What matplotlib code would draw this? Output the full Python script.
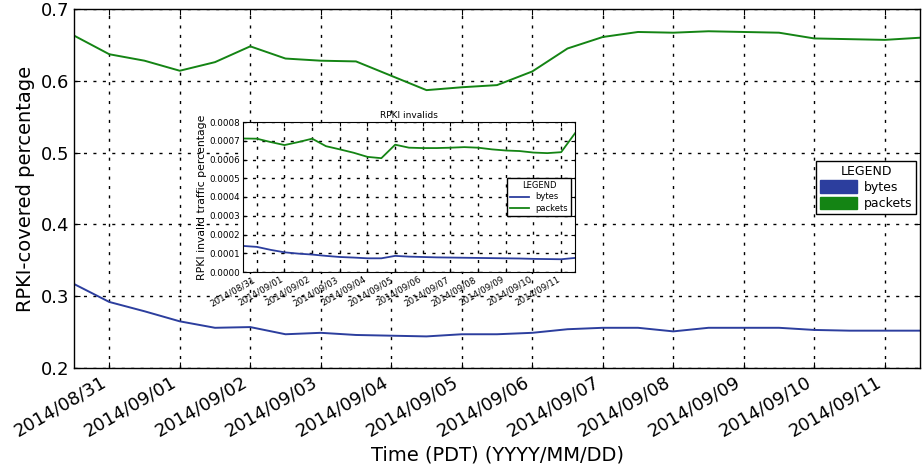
import matplotlib
matplotlib.use("Agg")
import matplotlib.pyplot as plt
import matplotlib.dates as mdates
from matplotlib.patches import Patch
import pandas as pd

plt.rcParams['font.family'] = ['DejaVu Sans']

times = pd.to_datetime([
    "2014-08-30 12:00", "2014-08-31 00:00", "2014-08-31 12:00", "2014-09-01 00:00",
    "2014-09-01 12:00", "2014-09-02 00:00", "2014-09-02 12:00", "2014-09-03 00:00",
    "2014-09-03 12:00", "2014-09-04 00:00", "2014-09-04 12:00", "2014-09-05 00:00",
    "2014-09-05 12:00", "2014-09-06 00:00", "2014-09-06 12:00", "2014-09-07 00:00",
    "2014-09-07 12:00", "2014-09-08 00:00", "2014-09-08 12:00", "2014-09-09 00:00",
    "2014-09-09 12:00", "2014-09-10 00:00", "2014-09-10 12:00", "2014-09-11 00:00",
    "2014-09-11 12:00",
])

covered_bytes = [0.317, 0.292, 0.279, 0.265, 0.256, 0.257, 0.247, 0.249, 0.246,
                 0.245, 0.244, 0.247, 0.247, 0.249, 0.254, 0.256, 0.256, 0.251,
                 0.256, 0.256, 0.256, 0.253, 0.252, 0.252, 0.252]
covered_packets = [0.663, 0.637, 0.628, 0.614, 0.626, 0.648, 0.631, 0.628, 0.627,
                   0.607, 0.587, 0.591, 0.594, 0.613, 0.645, 0.661, 0.668, 0.667,
                   0.669, 0.668, 0.667, 0.659, 0.658, 0.657, 0.660]

invalid_bytes = [0.000139, 0.000134, 0.000118, 0.000105, 0.000098, 0.000093,
                 0.000086, 0.000080, 0.000077, 0.000073, 0.000073, 0.000086,
                 0.000082, 0.000080, 0.000078, 0.000077, 0.000076, 0.000075,
                 0.000074, 0.000073, 0.000072, 0.000070, 0.000069, 0.000068,
                 0.000075]
invalid_packets = [0.000712, 0.000711, 0.000693, 0.000677, 0.000693, 0.000711,
                   0.000671, 0.000654, 0.000636, 0.000614, 0.000607, 0.000679,
                   0.000663, 0.000661, 0.000661, 0.000663, 0.000666, 0.000663,
                   0.000654, 0.000648, 0.000645, 0.000637, 0.000634, 0.000639,
                   0.000740]

series_labels = ["bytes", "packets"]
blue = "#2c3e9e"
green = "#148414"

grid_kw = dict(color="black", linestyle=(0, (2.2, 4.6)), linewidth=1.0)

fig = plt.figure(figsize=(9.22, 4.74), dpi=100)
ax = fig.add_axes([74/922, 1-368/474, (920-74)/922, (368-9)/474])
ax.plot(times, covered_bytes, color=blue, lw=1.4)
ax.plot(times, covered_packets, color=green, lw=1.4)
ax.set_xlim(times[0], times[-1])
ax.set_ylim(0.2, 0.7)
ax.set_yticks([0.2, 0.3, 0.4, 0.5, 0.6, 0.7])
ax.xaxis.set_major_locator(mdates.DayLocator())
ax.xaxis.set_major_formatter(mdates.DateFormatter("%Y/%m/%d"))
ax.tick_params(axis="both", direction="in", labelsize=13, top=True, right=True, length=4)
for lab in ax.get_xticklabels():
    lab.set_rotation(30)
    lab.set_ha("right")
ax.grid(True, **grid_kw)
ax.set_ylabel("RPKI-covered percentage", fontsize=14)
ax.set_xlabel("Time (PDT) (YYYY/MM/DD)", fontsize=14)
for s in ax.spines.values():
    s.set_linewidth(1.0)

handles = [Patch(facecolor=blue, edgecolor=blue), Patch(facecolor=green, edgecolor=green)]
leg = ax.legend(handles, series_labels, title="LEGEND", loc="center",
                bbox_to_anchor=(866/922, 1-187.5/474), bbox_transform=fig.transFigure,
                fontsize=9, title_fontsize=9, fancybox=False, framealpha=1,
                edgecolor="black", handlelength=3.0, handleheight=1.2,
                borderpad=0.3, labelspacing=0.2, handletextpad=0.5)
leg.get_frame().set_linewidth(1.0)

ins = fig.add_axes([243/922, 1-272/474, (575-243)/922, (272-122)/474])
ins.plot(times, invalid_bytes, color=blue, lw=1.3, label=series_labels[0])
ins.plot(times, invalid_packets, color=green, lw=1.3, label=series_labels[1])
ins.set_xlim(times[0], times[-1])
ins.set_ylim(0, 0.0008)
ins.set_yticks([i * 0.0001 for i in range(9)])
ins.yaxis.set_major_formatter(matplotlib.ticker.FormatStrFormatter("%.4f"))
ins.xaxis.set_major_locator(mdates.DayLocator())
ins.xaxis.set_major_formatter(mdates.DateFormatter("%Y/%m/%d"))
ins.tick_params(axis="both", direction="in", labelsize=6.3, top=True, right=True,
                length=3, pad=2)
for lab in ins.get_xticklabels():
    lab.set_rotation(30)
    lab.set_ha("right")
ins.grid(True, **grid_kw)
ins.set_title("RPKI invalids", fontsize=6.5, pad=3)
ins.set_ylabel("RPKI invalid traffic percentage", fontsize=7.8, labelpad=2)
ileg = ins.legend(title="LEGEND", loc="center",
                  bbox_to_anchor=(539/922, 1-197/474), bbox_transform=fig.transFigure,
                  fontsize=6, title_fontsize=6, fancybox=False, framealpha=1,
                  edgecolor="black", handlelength=2.2, borderpad=0.4,
                  labelspacing=0.3, handletextpad=0.8)
ileg.get_frame().set_linewidth(1.0)

fig.savefig("out.png", dpi=100)
